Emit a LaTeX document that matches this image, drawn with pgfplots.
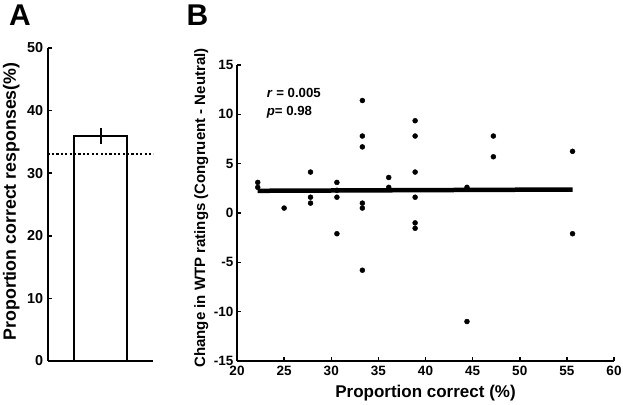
\documentclass[border=0pt]{standalone}
\usepackage{pgfplots}
\pgfplotsset{compat=1.18}
\usepackage{fontspec}
\setmainfont{Liberation Sans}
\begin{document}
\begin{tikzpicture}[x=1pt,y=1pt]
\path[use as bounding box] (0,0) rectangle (623,404);
\node[font=\fontsize{30}{32}\selectfont\bfseries] at (20,389) {A};
\node[font=\fontsize{30}{32}\selectfont\bfseries] at (197.5,389) {B};
% Panel A
\begin{axis}[
  at={(47.7pt,43pt)}, anchor=south west,
  scale only axis, width=105.6pt, height=313pt,
  xmin=0, xmax=1, ymin=0, ymax=50,
  axis lines*=left, axis line style={line width=2.2pt, -},
  xtick=\empty, ytick={0,10,...,50},
  tick style={line width=1.5pt, black}, tick align=inside, major tick length=4pt,
  /pgf/number format/assume math mode=true,
  yticklabel={\textbf{\pgfmathprintnumber{\tick}}},
  ticklabel style={font=\fontsize{14.4}{15}\selectfont\bfseries},
  yticklabel style={xshift=-1pt},
  ylabel={Proportion correct responses(\%)},
  ylabel style={at={(axis description cs:-0.345,0.51)}, anchor=center,
    font=\fontsize{17.8}{19}\selectfont\bfseries},
  clip=false,
]
\addplot[ybar, bar width=0.5, fill=white, draw=black, line width=2.4pt,
  error bars/.cd, y dir=both, y explicit, error bar style={line width=2pt}, error mark=none]
  coordinates {(0.5,35.9) +- (0,1.3)};
\addplot[black, line width=2pt, dash pattern=on 2.2pt off 2.2pt] coordinates {(0,33.1) (1,33.1)};
\end{axis}
% Panel B
\begin{axis}[
  at={(237pt,43pt)}, anchor=south west,
  scale only axis, width=377pt, height=296pt,
  xmin=20, xmax=60, ymin=-15, ymax=15,
  axis lines*=left, axis line style={line width=2.2pt, -},
  xtick={20,25,...,60}, ytick={-15,-10,...,15},
  tick style={line width=1.5pt, black}, tick align=inside, major tick length=4pt,
  /pgf/number format/assume math mode=true,
  xticklabel={\textbf{\pgfmathprintnumber{\tick}}},
  yticklabel={\textbf{\pgfmathprintnumber{\tick}}},
  ticklabel style={font=\fontsize{13.5}{14}\selectfont\bfseries},
  xticklabel style={yshift=-2pt},
  xlabel={Proportion correct (\%)},
  xlabel style={at={(axis description cs:0.5,-0.108)}, anchor=center,
    font=\fontsize{17}{18}\selectfont\bfseries},
  ylabel={Change in WTP ratings (Congruent - Neutral)},
  ylabel style={at={(axis description cs:-0.095,0.517)}, anchor=center,
    font=\fontsize{15}{16}\selectfont\bfseries},
  clip=false,
]
\addplot[only marks, mark=*, mark size=2.5pt, black] coordinates {
(22.2,3.1) (22.2,2.6)
(25.0,0.5)
(27.8,4.15) (27.8,1.6) (27.8,1.0)
(30.6,3.1) (30.6,2.3) (30.6,1.6) (30.6,-2.1)
(33.3,11.4) (33.3,7.8) (33.3,6.7) (33.3,1.0) (33.3,0.5) (33.3,-5.8)
(36.1,3.6) (36.1,2.6)
(38.9,9.35) (38.9,7.8) (38.9,4.15) (38.9,1.6) (38.9,-1.0) (38.9,-1.55)
(44.4,2.6) (44.4,-11.0)
(47.2,7.8) (47.2,5.7)
(55.6,6.25) (55.6,-2.1)
};
\addplot[black, line width=4.5pt] coordinates {(22.2,2.25) (55.6,2.38)};
\node[anchor=west, font=\fontsize{13.2}{14}\selectfont\bfseries] at (axis cs:22.8,12.2) {\textit{r} = 0.005};
\node[anchor=west, font=\fontsize{13.2}{14}\selectfont\bfseries] at (axis cs:22.8,10.2) {\textit{p}= 0.98};
\end{axis}
\end{tikzpicture}
\end{document}
